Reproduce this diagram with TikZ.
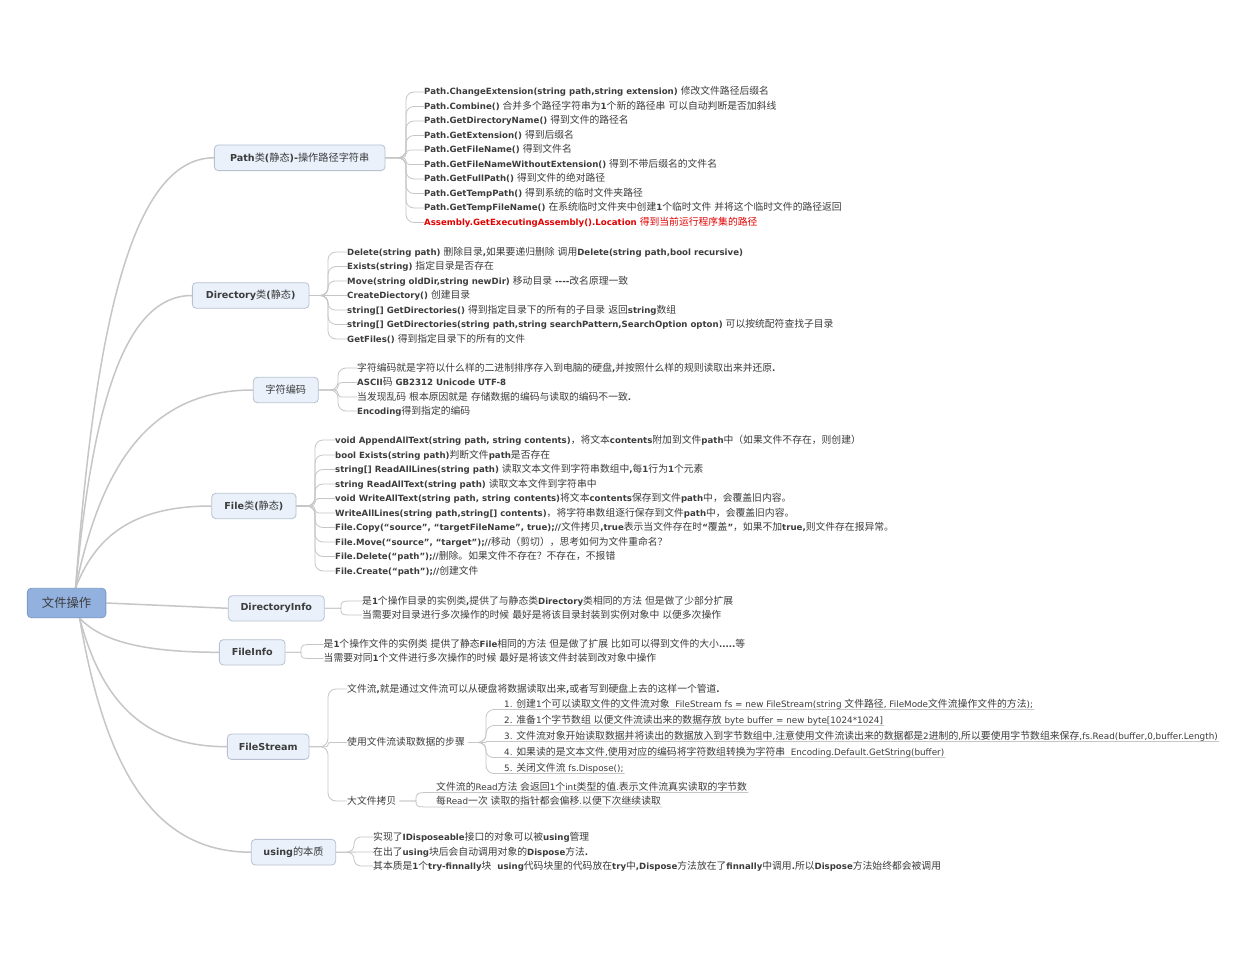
\documentclass[tikz,border=0pt]{standalone}
\usepackage{fontspec}
\setmainfont{DejaVu Sans}
\newfontfamily\cjkL{Noto Sans CJK SC}[Scale=1.14,BoldFont={Noto Sans CJK SC}]
\newfontfamily\cjkR{Noto Sans CJK SC}[Scale=1.12,BoldFont={Noto Sans CJK SC}]
\newfontfamily\cjkB{Noto Sans CJK SC}[Scale=1.06,BoldFont={Noto Sans CJK SC}]
\makeatletter
\newif\ifcjkmode
\let\cjkcur\cjkL
\def\tocjk{\ifcjkmode\else\cjkmodetrue\let\savedfam\f@family\cjkcur\fi}
\def\fromcjk{\ifcjkmode\cjkmodefalse\fontfamily{\savedfam}\selectfont\fi}
\makeatother
\newXeTeXintercharclass\cjkcls
\newcount\cjkcc
\def\setcls#1#2{\cjkcc=#1\relax\loop\XeTeXcharclass\cjkcc=\cjkcls\relax\ifnum\cjkcc<#2\advance\cjkcc by 1\repeat}
\setcls{"4E00}{"9FFF}
\setcls{"3000}{"303F}
\setcls{"FF00}{"FFEF}
\XeTeXcharclass"201C=0 \XeTeXcharclass"201D=0 \XeTeXcharclass"2018=0 \XeTeXcharclass"2019=0
\XeTeXinterchartoks 0 \cjkcls = {\tocjk}
\XeTeXinterchartoks 4095 \cjkcls = {\tocjk}
\XeTeXinterchartoks \cjkcls 0 = {\fromcjk}
\XeTeXinterchartoks \cjkcls 4095 = {\fromcjk}
\XeTeXinterchartokenstate=1
\definecolor{txt}{HTML}{3C3C3C}
\definecolor{lnc}{HTML}{C6C6C6}
\definecolor{brfill}{HTML}{EAF1FB}
\definecolor{brd}{HTML}{B7C1CF}
\definecolor{rootfill}{HTML}{93B1DE}
\definecolor{rootbrd}{HTML}{7F9BC6}
\definecolor{redtxt}{HTML}{E20000}
\newcommand\lfont{\fontsize{8.6pt}{10pt}\selectfont\bfseries\let\cjkcur\cjkL}
\newcommand\lrfont{\fontsize{8.8pt}{10pt}\selectfont\let\cjkcur\cjkR}
\newcommand\bfont{\fontsize{9.6pt}{11pt}\selectfont\bfseries\let\cjkcur\cjkB}
\newcommand\rfont{\fontsize{11pt}{13pt}\selectfont\let\cjkcur\cjkR}
\newcommand\lk[4]{\draw[leafln,rounded corners=#4pt] (#1.east) -| ([xshift=-#3pt]#2.west) -- (#2.west);}
\newcommand\lku[4]{\draw[leafln,rounded corners=#4pt] ([xshift=3pt]#1.east) -| ([xshift=-#3pt,yshift=-5.5pt]#2.west) -- ([xshift=1pt,yshift=-5.5pt]#2.east);}
\pgfdeclarelayer{bg}
\pgfsetlayers{bg,main}
\begin{document}
\begin{tikzpicture}[x=1pt,y=-1pt,
  lf/.style={anchor=west,inner sep=0pt,text height=7.6pt,text depth=1.6pt,text=txt,font=\lfont},
  lfr/.style={lf,font=\lrfont},
  br/.style={draw=brd,fill=brfill,rounded corners=4pt,line width=0.8pt,inner sep=0pt,text=txt,font=\bfont},
  rootst/.style={draw=rootbrd,fill=rootfill,rounded corners=4pt,line width=0.9pt,inner sep=0pt,text=txt,font=\rfont,minimum width=78.5pt,minimum height=29.5pt},
  leafln/.style={draw=lnc,line width=0.8pt},
  mainln/.style={draw=lnc,line width=1.5pt}]
\useasboundingbox (0,0) rectangle (1240,960);

% ---------- leaf text nodes ----------
\node[lf] (P1) at (424,92) {Path.ChangeExtension(string path,string extension) 修改文件路径后缀名};
\node[lf] (P2) at (424,106.5) {Path.Combine() 合并多个路径字符串为1个新的路径串 可以自动判断是否加斜线};
\node[lf] (P3) at (424,121) {Path.GetDirectoryName() 得到文件的路径名};
\node[lf] (P4) at (424,135.5) {Path.GetExtension() 得到后缀名};
\node[lf] (P5) at (424,150) {Path.GetFileName() 得到文件名};
\node[lf] (P6) at (424,164.5) {Path.GetFileNameWithoutExtension() 得到不带后缀名的文件名};
\node[lf] (P7) at (424,179) {Path.GetFullPath() 得到文件的绝对路径};
\node[lf] (P8) at (424,193.5) {Path.GetTempPath() 得到系统的临时文件夹路径};
\node[lf] (P9) at (424,208) {Path.GetTempFileName() 在系统临时文件夹中创建1个临时文件 并将这个临时文件的路径返回};
\node[lf,text=redtxt] (P10) at (424,222.5) {Assembly.GetExecutingAssembly().Location 得到当前运行程序集的路径};

\node[lf] (D1) at (347,252) {Delete(string path) 删除目录,如果要递归删除 调用Delete(string path,bool recursive)};
\node[lf] (D2) at (347,266.5) {Exists(string) 指定目录是否存在};
\node[lf] (D3) at (347,281) {Move(string oldDir,string newDir) 移动目录 -{}-{}-{}-改名原理一致};
\node[lf] (D4) at (347,295.5) {CreateDiectory() 创建目录};
\node[lf] (D5) at (347,310) {string[] GetDirectories() 得到指定目录下的所有的子目录 返回string数组};
\node[lf] (D6) at (347,324.5) {string[] GetDirectories(string path,string searchPattern,SearchOption opton) 可以按统配符查找子目录};
\node[lf] (D7) at (347,339) {GetFiles() 得到指定目录下的所有的文件};

\node[lf] (E1) at (357,368) {字符编码就是字符以什么样的二进制排序存入到电脑的硬盘,并按照什么样的规则读取出来并还原.};
\node[lf] (E2) at (357,382.5) {ASCII码 GB2312 Unicode UTF-8};
\node[lf] (E3) at (357,397) {当发现乱码 根本原因就是 存储数据的编码与读取的编码不一致.};
\node[lf] (E4) at (357,411) {Encoding得到指定的编码};

\node[lf] (F1) at (335,440) {void AppendAllText(string path, string contents)，将文本contents附加到文件path中（如果文件不存在，则创建）};
\node[lf] (F2) at (335,455) {bool Exists(string path)判断文件path是否存在};
\node[lf] (F3) at (335,469.5) {string[] ReadAllLines(string path) 读取文本文件到字符串数组中,每1行为1个元素};
\node[lf] (F4) at (335,484) {string ReadAllText(string path) 读取文本文件到字符串中};
\node[lf] (F5) at (335,498.5) {void WriteAllText(string path, string contents)将文本contents保存到文件path中，会覆盖旧内容。};
\node[lf] (F6) at (335,513) {WriteAllLines(string path,string[] contents)，将字符串数组逐行保存到文件path中，会覆盖旧内容。};
\node[lf] (F7) at (335,527.5) {File.Copy(“source”, “targetFileName”, true);//文件拷贝,true表示当文件存在时“覆盖”，如果不加true,则文件存在报异常。};
\node[lf] (F8) at (335,542) {File.Move(“source”, “target”);//移动（剪切），思考如何为文件重命名？};
\node[lf] (F9) at (335,556.5) {File.Delete(“path”);//删除。如果文件不存在？不存在，不报错};
\node[lf] (F10) at (335,571) {File.Create(“path”);//创建文件};

\node[lf] (DI1) at (362,601) {是1个操作目录的实例类,提供了与静态类Directory类相同的方法 但是做了少部分扩展};
\node[lf] (DI2) at (362,615) {当需要对目录进行多次操作的时候 最好是将该目录封装到实例对象中 以便多次操作};

\node[lf] (FI1) at (323.5,644.5) {是1个操作文件的实例类 提供了静态File相同的方法 但是做了扩展 比如可以得到文件的大小.....等};
\node[lf] (FI2) at (323.5,658.5) {当需要对同1个文件进行多次操作的时候 最好是将该文件封装到改对象中操作};

\node[lf] (FS1) at (347,689) {文件流,就是通过文件流可以从硬盘将数据读取出来,或者写到硬盘上去的这样一个管道.};
\node[lf] (FS2) at (347,742.5) {使用文件流读取数据的步骤};
\node[lf] (FS3) at (347,801) {大文件拷贝};
\node[lfr] (S1) at (504,704) {1. 创建1个可以读取文件的文件流对象\ \ FileStream fs = new FileStream(string 文件路径, FileMode文件流操作文件的方法);};
\node[lfr] (S2) at (504,720) {2. 准备1个字节数组 以便文件流读出来的数据存放 byte buffer = new byte[1024*1024]};
\node[lfr] (S3) at (504,736) {3. 文件流对象开始读取数据并将读出的数据放入到字节数组中,注意使用文件流读出来的数据都是2进制的,所以要使用字节数组来保存,fs.Read(buffer,0,buffer.Length)};
\node[lfr] (S4) at (504,752) {4. 如果读的是文本文件,使用对应的编码将字符数组转换为字符串\ \ Encoding.Default.GetString(buffer)};
\node[lfr] (S5) at (504,768) {5. 关闭文件流 fs.Dispose();};
\node[lfr] (T1) at (436,787) {文件流的Read方法 会返回1个int类型的值.表示文件流真实读取的字节数};
\node[lfr] (T2) at (436,801.5) {每Read一次 读取的指针都会偏移.以便下次继续读取};

\node[lf] (U1) at (373,837) {实现了IDisposeable接口的对象可以被using管理};
\node[lf] (U2) at (373,852) {在出了using块后会自动调用对象的Dispose方法.};
\node[lf] (U3) at (373,866) {其本质是1个try-finnally块\ \ using代码块里的代码放在try中,Dispose方法放在了finnally中调用.所以Dispose方法始终都会被调用};

% ---------- branch nodes ----------
\path (299.7,157.8) node[br,minimum width=170.7pt,minimum height=25.7pt] (P) {Path类(静态)-操作路径字符串};
\path (250.7,295.5) node[br,minimum width=116.7pt,minimum height=25.6pt] (D) {Directory类(静态)};
\path (285.8,390) node[br,minimum width=65pt,minimum height=25.4pt,font=\fontsize{9.6pt}{11pt}\selectfont\let\cjkcur\cjkB] (E) {字符编码};
\path (253.9,506) node[br,minimum width=84.3pt,minimum height=25.4pt] (F) {File类(静态)};
\path (276.3,608.3) node[br,minimum width=96pt,minimum height=25.3pt] (DI) {DirectoryInfo};
\path (252.2,652.3) node[br,minimum width=65.7pt,minimum height=25.3pt] (FI) {FileInfo};
\path (268.2,746.7) node[br,minimum width=81.7pt,minimum height=25.3pt] (FS) {FileStream};
\path (293.5,852.2) node[br,minimum width=84.4pt,minimum height=25.7pt] (U) {using的本质};
\path (66.6,603) node[rootst] (root) {文件操作};

% ---------- connectors (behind) ----------
\begin{pgfonlayer}{bg}
\fill[white] (0,0) rectangle (1240,960);
% root to branches
\draw[mainln] ([xshift=9pt]root.north) .. controls (94.9,330) and (131,157.8) .. (P.west);
\draw[mainln] ([xshift=9pt]root.north) .. controls (91.9,412.6) and (122.2,295.5) .. (D.west);
\draw[mainln] ([xshift=9pt]root.north) .. controls (100.4,469.3) and (146.6,390) .. (E.west);
\draw[mainln] ([xshift=9pt]root.north) .. controls (94.6,538.9) and (130,506) .. (F.west);
\draw[mainln] (root.east) -- (DI.west);
\draw[mainln] ([xshift=13pt]root.south) .. controls (99.1,638.5) and (135.4,652.3) .. (FI.west);
\draw[mainln] ([xshift=13pt]root.south) .. controls (100.2,695.1) and (138.6,746.7) .. (FS.west);
\draw[mainln] ([xshift=13pt]root.south) .. controls (103.6,758.4) and (148.2,852.2) .. (U.west);
% Path
\lk{P}{P1}{18}{8}\lk{P}{P2}{18}{8}\lk{P}{P3}{18}{8}\lk{P}{P4}{18}{8}\lk{P}{P5}{18}{3.9}
\lk{P}{P6}{18}{3.3}\lk{P}{P7}{18}{8}\lk{P}{P8}{18}{8}\lk{P}{P9}{18}{8}\lk{P}{P10}{18}{8}
% Directory
\lk{D}{D1}{19}{8}\lk{D}{D2}{19}{8}\lk{D}{D3}{19}{7}
\draw[leafln] (D.east) -- (D4.west);
\lk{D}{D5}{19}{7}\lk{D}{D6}{19}{8}\lk{D}{D7}{19}{8}
% encoding
\lk{E}{E1}{19}{8}\lk{E}{E2}{19}{3.7}\lk{E}{E3}{19}{3.5}\lk{E}{E4}{19}{8}
% File
\lk{F}{F1}{20}{8}\lk{F}{F2}{20}{8}\lk{F}{F3}{20}{8}\lk{F}{F4}{20}{8}\lk{F}{F5}{20}{3.7}
\lk{F}{F6}{20}{3.5}\lk{F}{F7}{20}{8}\lk{F}{F8}{20}{8}\lk{F}{F9}{20}{8}\lk{F}{F10}{20}{8}
% DirectoryInfo
\draw[leafln] (DI.east) -- (341,608.3) .. controls (341,601) .. (355,601) -- (DI1.west);
\draw[leafln] (DI.east) -- (341,608.3) .. controls (341,615) .. (355,615) -- (DI2.west);
% FileInfo
\draw[leafln] (FI.east) -- (301,652.3) .. controls (301,644.5) .. (315,644.5) -- (FI1.west);
\draw[leafln] (FI.east) -- (301,652.3) .. controls (301,658.5) .. (315,658.5) -- (FI2.west);
% FileStream
\lk{FS}{FS1}{19}{8}\lk{FS}{FS2}{19}{2}\lk{FS}{FS3}{19}{8}
\lku{FS2}{S1}{18}{8}\lku{FS2}{S2}{18}{8}\lku{FS2}{S3}{18}{0.5}\lku{FS2}{S4}{18}{7}\lku{FS2}{S5}{18}{8}
\draw[leafln] ([xshift=3pt]FS3.east) -- (416,801) .. controls (416,792.5) .. (433,792.5) -- ([xshift=1pt,yshift=-5.5pt]T1.east);
\draw[leafln] ([xshift=3pt]FS3.east) -- (416,801) .. controls (416,807) .. (433,807) -- ([xshift=1pt,yshift=-5.5pt]T2.east);
% using
\lk{U}{U1}{19}{7}
\draw[leafln] (U.east) -- (U2.west);
\lk{U}{U3}{19}{6.9}
\end{pgfonlayer}
\end{tikzpicture}
\end{document}
